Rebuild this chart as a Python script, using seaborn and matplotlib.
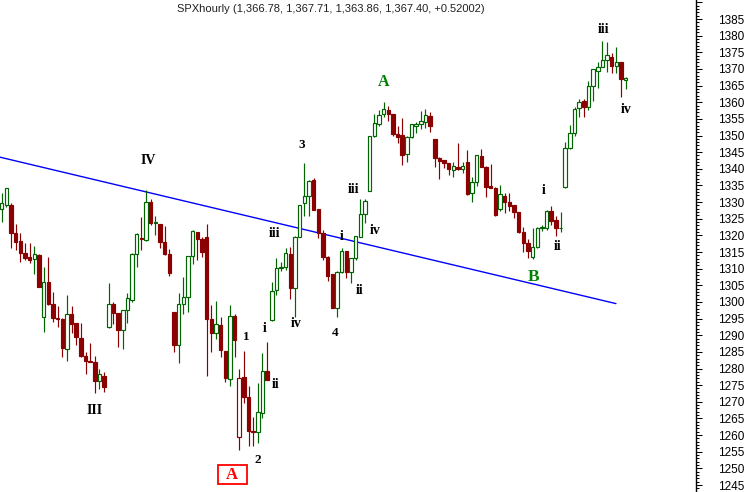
import numpy as np
import pandas as pd
import matplotlib
matplotlib.use("Agg")
import matplotlib.pyplot as plt
from matplotlib.patches import Rectangle
from matplotlib.ticker import MultipleLocator, FuncFormatter
import seaborn as sns

# ---------------- data ----------------
opens = [1327.84, 1329.13, 1329.13, 1320.63, 1318.31, 1314.80, 1313.42, 1312.82, 1314.11, 1295.57,
         1306.00, 1299.39, 1295.27, 1294.88, 1285.78, 1296.29, 1293.59, 1289.09, 1283.77, 1282.36,
         1282.06, 1276.17, 1277.76, 1292.39, 1299.39, 1296.60, 1291.49, 1297.50, 1300.59, 1314.32,
         1319.31, 1318.61, 1330.12, 1323.81, 1323.42, 1318.01, 1314.32, 1296.99, 1287.16, 1299.39,
         1301.49, 1313.81, 1321.02, 1319.01, 1319.61, 1294.97, 1290.77, 1293.08, 1285.27, 1276.77,
         1295.79, 1259.53, 1277.46, 1271.54, 1261.33, 1261.03, 1266.55, 1279.26, 1294.58, 1303.59,
         1310.11, 1310.41, 1314.41, 1304.29, 1319.61, 1329.64, 1331.92, 1336.64, 1327.93, 1320.63,
         1313.60, 1308.31, 1298.28, 1308.91, 1315.31, 1308.91, 1313.12, 1319.61, 1326.33, 1333.33,
         1349.86, 1353.37, 1356.37, 1357.67, 1356.37, 1350.46, 1350.16, 1344.36, 1349.47, 1352.95,
         1353.37, 1354.15, 1355.86, 1348.95, 1343.34, 1342.65, 1341.74, 1339.64, 1340.63, 1339.94,
         1341.96, 1332.64, 1335.95, 1343.85, 1340.63, 1334.84, 1334.33, 1327.93, 1331.83, 1330.12,
         1329.04, 1327.03, 1320.92, 1317.62, 1313.42, 1316.42, 1322.13, 1322.31, 1327.33, 1324.62,
         1322.13, 1334.45, 1346.16, 1350.67, 1358.18, 1360.37, 1358.66, 1364.97, 1369.47, 1370.67,
         1372.69, 1373.50, 1370.97, 1372.00, 1366.78]
highs = [1332.82, 1334.32, 1329.64, 1323.42, 1320.63, 1317.80, 1317.62, 1316.81, 1314.30, 1310.60,
         1313.60, 1303.08, 1298.79, 1295.09, 1302.09, 1298.79, 1293.70, 1293.68, 1285.08, 1287.58,
         1283.77, 1279.86, 1278.87, 1305.61, 1300.08, 1296.70, 1297.60, 1302.60, 1314.62, 1320.63,
         1325.61, 1333.63, 1330.84, 1325.82, 1323.50, 1322.82, 1315.82, 1297.10, 1302.60, 1307.59,
         1313.90, 1321.62, 1321.10, 1319.61, 1323.42, 1299.09, 1300.29, 1295.57, 1285.40, 1299.09,
         1296.39, 1279.86, 1285.27, 1274.76, 1265.53, 1275.75, 1284.58, 1288.06, 1306.09, 1313.12,
         1312.10, 1316.12, 1316.42, 1319.70, 1329.20, 1341.83, 1336.64, 1337.33, 1328.00, 1321.62,
         1313.70, 1308.40, 1309.20, 1316.12, 1315.40, 1313.20, 1319.90, 1330.84, 1330.84, 1349.95,
         1356.37, 1357.67, 1359.98, 1358.87, 1356.45, 1352.86, 1355.35, 1349.75, 1353.45, 1354.15,
         1357.37, 1357.97, 1357.16, 1349.05, 1343.45, 1342.75, 1341.85, 1341.96, 1347.66, 1341.96,
         1345.65, 1337.45, 1344.25, 1345.95, 1340.70, 1341.35, 1334.40, 1335.14, 1332.82, 1332.64,
         1329.10, 1327.10, 1322.61, 1318.82, 1322.13, 1322.40, 1323.12, 1327.63, 1328.83, 1325.91,
         1327.12, 1348.14, 1353.16, 1358.66, 1360.82, 1360.97, 1366.38, 1369.95, 1372.18, 1378.39,
         1378.00, 1374.88, 1376.50, 1372.10, 1367.71]
lows = [1324.11, 1328.62, 1316.30, 1315.61, 1312.10, 1312.61, 1311.80, 1308.31, 1304.40, 1291.07,
        1299.20, 1294.07, 1292.57, 1283.38, 1282.36, 1290.77, 1287.07, 1283.38, 1278.27, 1281.90,
        1272.56, 1273.76, 1272.86, 1292.20, 1293.38, 1286.38, 1285.87, 1293.77, 1300.08, 1310.60,
        1315.61, 1318.40, 1323.12, 1320.12, 1316.30, 1314.20, 1307.80, 1285.06, 1281.76, 1296.29,
        1297.08, 1311.32, 1312.61, 1313.42, 1277.85, 1285.06, 1288.78, 1283.38, 1276.05, 1274.85,
        1283.56, 1255.53, 1269.56, 1256.82, 1256.82, 1257.72, 1265.05, 1276.40, 1294.40, 1302.09,
        1309.39, 1309.60, 1300.80, 1295.57, 1319.50, 1325.82, 1325.82, 1327.50, 1319.21, 1312.61,
        1306.39, 1298.20, 1295.57, 1308.80, 1307.29, 1305.61, 1312.61, 1319.50, 1323.63, 1333.20,
        1349.70, 1352.95, 1355.65, 1354.36, 1349.95, 1347.84, 1341.14, 1342.14, 1349.40, 1350.67,
        1351.87, 1352.35, 1351.15, 1340.63, 1336.85, 1340.33, 1338.14, 1337.45, 1339.64, 1338.65,
        1332.13, 1329.94, 1334.93, 1340.55, 1331.62, 1334.25, 1325.91, 1327.33, 1326.64, 1327.42,
        1325.13, 1320.63, 1315.10, 1313.12, 1312.82, 1316.30, 1321.41, 1321.62, 1323.12, 1319.82,
        1321.11, 1334.35, 1346.05, 1349.95, 1355.47, 1355.65, 1357.67, 1360.46, 1364.36, 1370.60,
        1369.17, 1368.87, 1368.87, 1361.66, 1363.86]
closes = [1329.64, 1334.14, 1320.63, 1318.10, 1314.80, 1313.30, 1312.61, 1314.32, 1304.59, 1306.09,
          1299.39, 1295.27, 1294.88, 1286.08, 1296.29, 1293.29, 1289.39, 1283.86, 1282.36, 1282.06,
          1276.35, 1278.27, 1274.55, 1299.39, 1296.60, 1291.58, 1297.50, 1301.10, 1314.32, 1320.33,
          1319.01, 1330.12, 1323.81, 1324.02, 1318.10, 1314.32, 1308.79, 1287.16, 1299.39, 1301.49,
          1313.81, 1321.32, 1318.82, 1315.01, 1294.97, 1290.77, 1293.38, 1285.57, 1277.25, 1295.79,
          1288.58, 1277.25, 1271.54, 1261.33, 1261.03, 1266.86, 1279.26, 1276.56, 1303.29, 1310.11,
          1310.59, 1314.62, 1304.29, 1319.61, 1329.13, 1331.92, 1336.34, 1327.63, 1320.81, 1313.60,
          1307.89, 1298.28, 1309.09, 1315.31, 1308.91, 1313.12, 1319.82, 1326.33, 1330.33, 1349.86,
          1353.67, 1356.16, 1357.88, 1356.37, 1350.46, 1349.65, 1344.15, 1349.65, 1353.37, 1353.46,
          1354.45, 1356.16, 1352.95, 1343.34, 1342.35, 1341.84, 1339.94, 1340.93, 1339.94, 1340.84,
          1332.43, 1335.95, 1344.15, 1340.63, 1334.63, 1334.33, 1326.12, 1332.34, 1330.12, 1328.83,
          1327.12, 1321.11, 1317.62, 1315.31, 1316.60, 1322.31, 1322.52, 1327.33, 1324.41, 1322.13,
          1322.31, 1346.34, 1350.67, 1358.06, 1360.16, 1358.66, 1364.97, 1369.89, 1370.67, 1372.69,
          1374.19, 1370.97, 1372.18, 1366.88, 1367.40]

# trend line end points (bar index, price)
trend_x = [-0.4, 131.9]
trend_y = [1343.5, 1299.5]

# wave labels: text, bar index, price
wave_text = ["IV", "III", "1", "2", "i", "ii", "iii", "iv", "3", "4",
             "i", "iii", "iv", "ii", "i", "ii", "iii", "iv"]
wave_x = [31.5, 20.0, 52.6, 54.9, 56.5, 58.9, 58.7, 63.2, 64.4, 71.7,
          73.1, 75.6, 80.2, 76.9, 116.4, 119.4, 129.3, 134.1]
wave_y = [1342.6, 1267.4, 1289.6, 1252.5, 1292.1, 1275.3, 1320.6, 1293.6, 1347.2, 1290.8,
          1319.8, 1333.9, 1321.4, 1303.4, 1333.4, 1316.6, 1381.7, 1357.7]

title = "SPXhourly (1,366.78, 1,367.71, 1,363.86, 1,367.40, +0.52002)"

GREEN = "#006400"
RED = "#8B0000"

# ---------------- figure ----------------
sns.set_style("white")
plt.rcParams['font.family'] = ['Liberation Sans', 'DejaVu Sans']

fig = plt.figure(figsize=(7.49, 4.92), dpi=100)
ax = fig.add_axes([0, 0, 696 / 749, 1])

df = pd.DataFrame({"t": np.arange(len(opens)), "open": opens, "high": highs,
                   "low": lows, "close": closes})
prev = df["close"].shift(1).fillna(df["open"])
df["up"] = df["close"] >= prev
df["hollow"] = df["close"] >= df["open"]
cols = np.where(df["up"], GREEN, RED)
faces = np.where(df["hollow"], "white", cols)

ax.vlines(df["t"], df["low"], df["high"], colors=cols, lw=0.85, zorder=2)
body_bottom = np.minimum(df["open"], df["close"])
body_h = np.maximum((df["close"] - df["open"]).abs(), 0.08)
ax.bar(df["t"], body_h, bottom=body_bottom, width=0.74, color=faces,
       edgecolor=cols, linewidth=0.85, zorder=3)

sns.lineplot(x=trend_x, y=trend_y, ax=ax, color="#0000FF", lw=1.0, zorder=1)

for s, x, y in zip(wave_text, wave_x, wave_y):
    size = 10 if s[0] in "IV" else (9.5 if s.isdigit() else 10)
    ax.text(x, y, s, ha="center", va="center", fontsize=size, fontweight="bold",
            family="Liberation Serif", color="black", zorder=5)

ax.text(81.9, 1366.2, "A", ha="center", va="center", fontsize=11.5, fontweight="bold",
        family="Liberation Serif", color="#008000", zorder=5)
ax.text(114.3, 1307.6, "B", ha="center", va="center", fontsize=12.5, fontweight="bold",
        family="Liberation Serif", color="#008000", zorder=5)
ax.add_patch(Rectangle((46.4, 1245.2), 6.2, 5.8, fill=False, ec="red", lw=1.3, zorder=5))
ax.text(49.5, 1248.0, "A", ha="center", va="center", fontsize=12, fontweight="bold",
        family="Liberation Serif", color="red", zorder=6)

# axes styling
ax.set_xlim(-0.365, 149.09)
ax.set_ylim(1242.9, 1390.71)
for side in ["top", "left", "bottom"]:
    ax.spines[side].set_visible(False)
ax.spines["right"].set_color("black")
ax.spines["right"].set_linewidth(1.0)
ax.set_xticks([])
ax.yaxis.tick_right()
ax.yaxis.set_major_locator(MultipleLocator(5))
ax.yaxis.set_minor_locator(MultipleLocator(1))
ax.yaxis.set_major_formatter(FuncFormatter(lambda v, p: "" if v > 1386 else f"{v:.0f}"))
ax.tick_params(axis="y", which="major", direction="out", length=4.3, width=0.75,
               pad=11.5, labelsize=8.5, colors="black", right=True, left=False)
ax.tick_params(axis="y", which="minor", direction="out", length=2.2, width=0.75,
               right=True, left=False, colors="black")
ax.set_xlabel("")
ax.set_ylabel("")

fig.text(176.7 / 749, 1 - 9 / 492, title, ha="left", va="center", fontsize=8,
         color="#202020")

fig.savefig("out.png", dpi=100)
